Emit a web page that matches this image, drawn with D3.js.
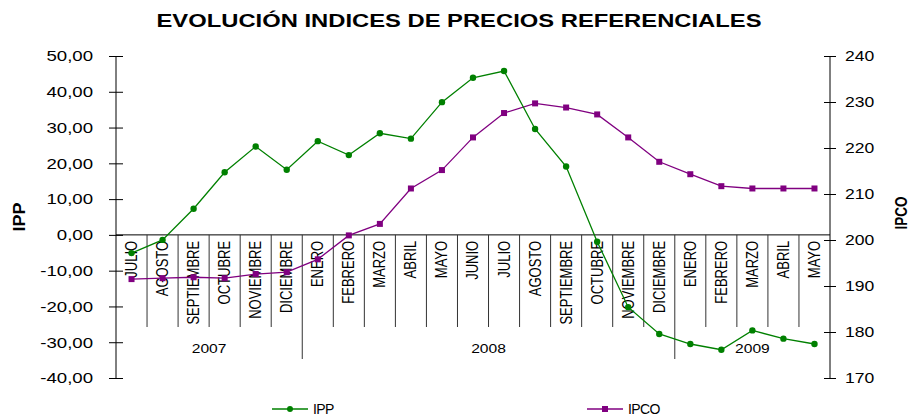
<!DOCTYPE html>
<html>
<head>
<meta charset="utf-8">
<script src="https://cdn.jsdelivr.net/npm/d3@7"></script>
<style>
  body { margin: 0; background: #fff; }
  text { font-family: "Liberation Sans", Arial, sans-serif; fill: #000; }
</style>
</head>
<body>
<div id="chart"></div>
<script>
// months shown on the x axis (Jul 2007 - May 2009)
const months = ["JULIO", "AGOSTO", "SEPTIEMBRE", "OCTUBRE", "NOVIEMBRE", "DICIEMBRE",
  "ENERO", "FEBRERO", "MARZO", "ABRIL", "MAYO", "JUNIO", "JULIO", "AGOSTO", "SEPTIEMBRE",
  "OCTUBRE", "NOVIEMBRE", "DICIEMBRE", "ENERO", "FEBRERO", "MARZO", "ABRIL", "MAYO"];
// year groups: label + number of months in it
const years = [["2007", 6], ["2008", 12], ["2009", 5]];

const ipp = [-5.1, -1.4, 7.3, 17.5, 24.7, 18.2, 26.2, 22.3, 28.4, 26.9, 37.1, 43.9,
  45.8, 29.6, 19.1, -1.9, -20.2, -27.7, -30.5, -32.1, -26.7, -29.0, -30.5];
const ipco = [191.5, 191.7, 191.9, 191.7, 192.6, 193.0, 195.8, 201.0, 203.5, 211.2, 215.2, 222.3,
  227.6, 229.7, 228.8, 227.3, 222.3, 217.0, 214.3, 211.7, 211.2, 211.2, 211.2];

const leftTicks = [-40, -30, -20, -10, 0, 10, 20, 30, 40, 50];
const rightTicks = [170, 180, 190, 200, 210, 220, 230, 240];

const width = 911, height = 419;
const plot = { left: 116, right: 830, top: 56, bottom: 378 };

const svg = d3.select("#chart").append("svg")
  .attr("width", width)
  .attr("height", height);

// the original picture is a bit wider than tall, so horizontal text gets stretched
function stretch(sel, k) {
  sel.each(function() {
    const w = this.getComputedTextLength();
    d3.select(this).attr("textLength", w * k).attr("lengthAdjust", "spacingAndGlyphs");
  });
}

const x = d3.scaleBand()
  .domain(d3.range(months.length))
  .range([plot.left, plot.right]);

const yL = d3.scaleLinear().domain([-40, 50]).range([plot.bottom, plot.top]);
const yR = d3.scaleLinear().domain([170, 240]).range([plot.bottom, plot.top]);

const fmt = d => d3.format(".2f")(d).replace(".", ",").replace("−", "-");

// title
svg.append("text")
  .attr("x", 459).attr("y", 27)
  .attr("text-anchor", "middle")
  .attr("textLength", 605).attr("lengthAdjust", "spacingAndGlyphs")
  .style("font-size", "18.5px").style("font-weight", "bold")
  .text("EVOLUCIÓN INDICES DE PRECIOS REFERENCIALES");

// left axis
const gl = svg.append("g")
  .attr("transform", "translate(" + plot.left + ",0)")
  .call(d3.axisLeft(yL).tickValues(leftTicks).tickFormat(fmt).tickSize(7).tickPadding(16));
gl.selectAll(".tick line").attr("x2", 7).attr("x1", -7);
gl.selectAll(".tick text").style("font-size", "15px").attr("font-family", null);
stretch(gl.selectAll(".tick text"), 1.24);
gl.select(".domain").attr("d", "M0," + plot.top + "V" + plot.bottom);

// right axis
const gr = svg.append("g")
  .attr("transform", "translate(" + plot.right + ",0)")
  .call(d3.axisRight(yR).tickValues(rightTicks).tickSize(6).tickPadding(9));
gr.selectAll(".tick line").attr("x1", -6).attr("x2", 6);
gr.selectAll(".tick text").style("font-size", "15px").attr("font-family", null);
stretch(gr.selectAll(".tick text"), 1.17);
gr.select(".domain").attr("d", "M0," + plot.top + "V" + plot.bottom);

// axis titles
svg.append("text")
  .attr("transform", "translate(25,217) rotate(-90) scale(1,1.2)")
  .attr("text-anchor", "middle")
  .attr("textLength", 29).attr("lengthAdjust", "spacingAndGlyphs")
  .style("font-size", "14px").style("font-weight", "bold")
  .text("IPP");
svg.append("text")
  .attr("transform", "translate(907,213) rotate(-90) scale(1,1.2)")
  .attr("text-anchor", "middle")
  .attr("textLength", 33).attr("lengthAdjust", "spacingAndGlyphs")
  .style("font-size", "14px").style("font-weight", "bold")
  .text("IPCO");

// category axis at IPP = 0
const y0 = yL(0);
svg.append("line")
  .attr("x1", plot.left).attr("x2", plot.right)
  .attr("y1", y0).attr("y2", y0)
  .attr("stroke", "#000");

// month separators, longer where a year begins
let yearStarts = [0];
years.forEach(d => yearStarts.push(yearStarts[yearStarts.length - 1] + d[1]));
svg.selectAll(".sep")
  .data(d3.range(1, months.length))
  .enter().append("line")
  .attr("class", "sep")
  .attr("x1", d => x(d)).attr("x2", d => x(d))
  .attr("y1", y0)
  .attr("y2", d => yearStarts.includes(d) ? 359 : 327)
  .attr("stroke", "#333");

svg.selectAll(".month")
  .data(months)
  .enter().append("text")
  .attr("class", "month")
  .attr("transform", (d, i) => "translate(" + (x(i) + x.bandwidth() / 2) + "," + (y0 + 6) + ") rotate(-90) scale(1,1.2)")
  .attr("text-anchor", "end")
  .attr("dy", "0.35em")
  .style("font-size", "13px")
  .text(d => d);

const yearText = svg.selectAll(".year")
  .data(years)
  .enter().append("text")
  .attr("class", "year")
  .attr("x", (d, i) => (x(yearStarts[i]) + (yearStarts[i + 1] < months.length ? x(yearStarts[i + 1]) : plot.right)) / 2)
  .attr("y", 353)
  .attr("text-anchor", "middle")
  .style("font-size", "13px")
  .text(d => d[0]);
stretch(yearText, 1.2);

const cx = i => x(i) + x.bandwidth() / 2;

// IPCO line (right axis)
svg.append("path")
  .datum(ipco)
  .attr("fill", "none").attr("stroke", "#800080").attr("stroke-width", 1.3)
  .attr("d", d3.line().x((d, i) => cx(i)).y(d => yR(d)));
svg.selectAll(".ipco")
  .data(ipco)
  .enter().append("rect")
  .attr("class", "ipco")
  .attr("x", (d, i) => cx(i) - 3).attr("y", d => yR(d) - 3)
  .attr("width", 6).attr("height", 6)
  .attr("fill", "#800080");

// IPP line (left axis)
svg.append("path")
  .datum(ipp)
  .attr("fill", "none").attr("stroke", "#008000").attr("stroke-width", 1.3)
  .attr("d", d3.line().x((d, i) => cx(i)).y(d => yL(d)));
svg.selectAll(".ipp")
  .data(ipp)
  .enter().append("circle")
  .attr("class", "ipp")
  .attr("cx", (d, i) => cx(i)).attr("cy", d => yL(d))
  .attr("r", 3.2)
  .attr("fill", "#008000");

// legend
const legend = [
  { name: "IPP", color: "#008000", x: 272, shape: "circle" },
  { name: "IPCO", color: "#800080", x: 587, shape: "rect" }
];
const lg = svg.selectAll(".legend")
  .data(legend)
  .enter().append("g")
  .attr("transform", d => "translate(" + d.x + ",409)");
lg.append("line").attr("x1", 0).attr("x2", 36)
  .attr("stroke", d => d.color).attr("stroke-width", 1.3);
lg.filter(d => d.shape === "circle").append("circle")
  .attr("cx", 18).attr("r", 3).attr("fill", d => d.color);
lg.filter(d => d.shape === "rect").append("rect")
  .attr("x", 15).attr("y", -3).attr("width", 6).attr("height", 6).attr("fill", d => d.color);
lg.append("text")
  .attr("x", 41).attr("dy", "0.35em")
  .style("font-size", "14px").style("letter-spacing", "-0.6px")
  .text(d => d.name);
</script>
</body>
</html>
